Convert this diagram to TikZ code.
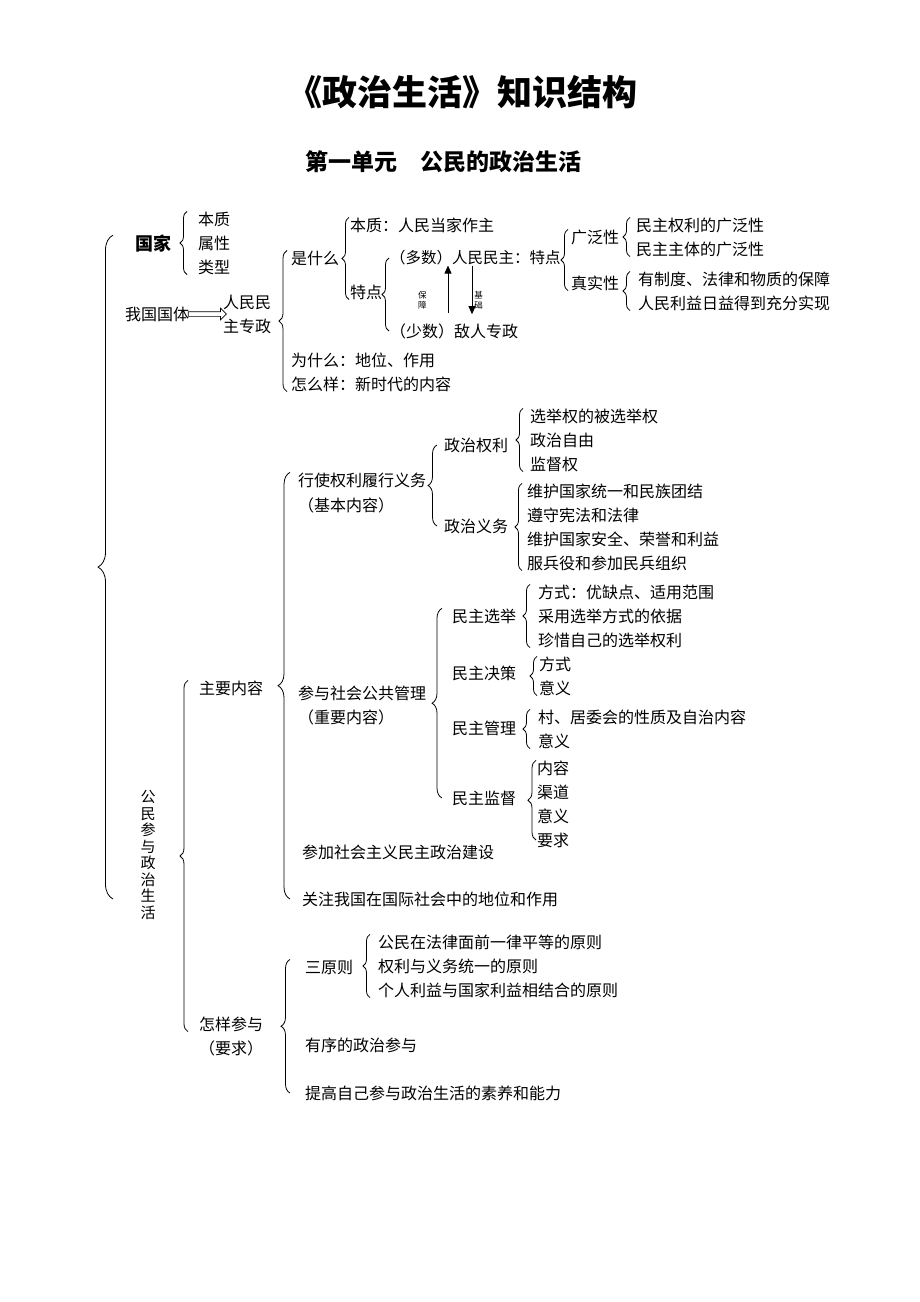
\documentclass[tikz,border=0pt]{standalone}
\usepackage{fontspec}
\setmainfont{Noto Sans CJK SC}
\usepackage{tikz}
\usetikzlibrary{decorations.pathreplacing, shapes.arrows, arrows.meta, calc}
\tikzset{
    item-text/.style = {anchor=west, inner sep=0pt, font=\fontsize{16}{19}\selectfont},
    head-text/.style = {font=\bfseries\fontsize{35}{40}\selectfont},
    unit-text/.style = {font=\bfseries\fontsize{23}{26}\selectfont},
    tiny-text/.style = {inner sep=0pt, align=center, font=\fontsize{8.5}{10}\selectfont},
    curly-brace/.style = {decorate, decoration={brace, amplitude=#1}, line width=0.8pt},
    curly-brace/.default = 7pt,
    hollow-arrow/.style = {single arrow, draw, line width=0.7pt, inner xsep=0pt, inner ysep=2pt, minimum height=38pt, single arrow head extend=3.5pt},
    thin-arrow/.style = {-{Triangle[length=8pt, width=7pt]}, line width=0.9pt},
}

\begin{document}
\begin{tikzpicture}[x=1pt, y=-1pt]
\path[use as bounding box, fill=white] (0,0) rectangle (920,1302);

\node[head-text] (title) at (462,92) {《政治生活》知识结构};
\node[unit-text] (unit) at (443,162) {第一单元\quad 公民的政治生活};

\node[item-text, font=\bfseries\fontsize{18}{20}\selectfont] (guojia) at (135,244) {国家};
\node[item-text] (gj1) at (198,219) {本质};
\node[item-text] (gj2) at (198,243) {属性};
\node[item-text] (gj3) at (198,267) {类型};
\node[item-text] (guoti) at (125,314) {我国国体};
\node[item-text, anchor=center, align=center, font=\fontsize{16}{24}\selectfont] (rmzz) at (247,314) {人民民\\主专政};
\path (guoti.east) -- node[hollow-arrow] (tiarrow) {} (rmzz.west);

\node[item-text] (shishenme) at (291,258) {是什么};
\node[item-text] (weishenme) at (291,360) {为什么：地位、作用};
\node[item-text] (zenmeyang) at (291,384) {怎么样：新时代的内容};
\node[item-text] (benzhi) at (350,225) {本质：人民当家作主};
\node[item-text] (tedian) at (350,292) {特点};
\node[item-text, font=\fontsize{15.5}{19}\selectfont] (duoshu) at (390,258) {（多数）人民民主：特点};
\node[item-text] (shaoshu) at (390,331) {（少数）敌人专政};
\node[item-text] (guangfan) at (571,237) {广泛性};
\node[item-text] (zhenshi) at (571,283) {真实性};
\node[item-text] (gf1) at (636,225) {民主权利的广泛性};
\node[item-text] (gf2) at (636,249) {民主主体的广泛性};
\node[item-text] (zs1) at (638,279) {有制度、法律和物质的保障};
\node[item-text] (zs2) at (638,303) {人民利益日益得到充分实现};

\draw[thin-arrow, shorten <=10pt] ([xshift=58pt]shaoshu.north west) -- node[tiny-text, pos=0.4, left=21pt] (baozhang) {保\\障} ([xshift=58pt]duoshu.south west);
\draw[thin-arrow, shorten >=9pt] ([xshift=82pt]duoshu.south west) -- node[tiny-text, pos=0.6, right=2pt] (jichu) {基\\础} ([xshift=82pt]shaoshu.north west);

\node[item-text, anchor=center, align=center, font=\fontsize{15}{16.5}\selectfont] (gmcy) at (148,855) {公\\民\\参\\与\\政\\治\\生\\活};
\node[item-text] (zyy) at (199,688) {主要内容};
\node[item-text] (zycy) at (199,1024) {怎样参与};
\node[item-text] (yaoqiu) at (199,1048) {（要求）};

\node[item-text] (xingshi) at (298,480) {行使权利履行义务};
\node[item-text] (jiben) at (298,505) {（基本内容）};
\node[item-text] (canyu) at (298,693) {参与社会公共管理};
\node[item-text] (zhongyao) at (298,717) {（重要内容）};
\node[item-text] (canjia) at (302,852) {参加社会主义民主政治建设};
\node[item-text] (guanzhu) at (302,899) {关注我国在国际社会中的地位和作用};

\node[item-text] (zzql) at (444,445) {政治权利};
\node[item-text] (zzyw) at (444,526) {政治义务};
\node[item-text] (ql1) at (530,416) {选举权的被选举权};
\node[item-text] (ql2) at (530,440) {政治自由};
\node[item-text] (ql3) at (530,464) {监督权};
\node[item-text] (yw1) at (527,491) {维护国家统一和民族团结};
\node[item-text] (yw2) at (527,515) {遵守宪法和法律};
\node[item-text] (yw3) at (527,539) {维护国家安全、荣誉和利益};
\node[item-text] (yw4) at (527,563) {服兵役和参加民兵组织};

\node[item-text] (mzxj) at (452,616) {民主选举};
\node[item-text] (mzjc) at (452,673) {民主决策};
\node[item-text] (mzgl) at (452,728) {民主管理};
\node[item-text] (mzjd) at (452,798) {民主监督};
\node[item-text] (xj1) at (538,592) {方式：优缺点、适用范围};
\node[item-text] (xj2) at (538,616) {采用选举方式的依据};
\node[item-text] (xj3) at (538,640) {珍惜自己的选举权利};
\node[item-text] (jc1) at (539,664) {方式};
\node[item-text] (jc2) at (539,688) {意义};
\node[item-text] (gl1) at (538,717) {村、居委会的性质及自治内容};
\node[item-text] (gl2) at (538,741) {意义};
\node[item-text] (jd1) at (537,768) {内容};
\node[item-text] (jd2) at (537,792) {渠道};
\node[item-text] (jd3) at (537,816) {意义};
\node[item-text] (jd4) at (537,840) {要求};

\node[item-text] (sanyuanze) at (305,967) {三原则};
\node[item-text] (youxu) at (305,1045) {有序的政治参与};
\node[item-text] (tigao) at (305,1093) {提高自己参与政治生活的素养和能力};
\node[item-text] (yz1) at (378,942) {公民在法律面前一律平等的原则};
\node[item-text] (yz2) at (378,966) {权利与义务统一的原则};
\node[item-text] (yz3) at (378,990) {个人利益与国家利益相结合的原则};

\draw[curly-brace=15pt] ($(guojia.west |- guanzhu.west)+(-22,0)$) -- ($(guojia.north west)+(-22,0)$);
\draw[curly-brace] ([xshift=-11pt]gj3.south west) -- ([xshift=-11pt]gj1.north west);
\draw[curly-brace=8pt] ([xshift=-4pt]zenmeyang.south west) -- ([xshift=-4pt]shishenme.north west);
\draw[curly-brace] ([xshift=-1pt]tedian.south west) -- ([xshift=-1pt]benzhi.north west);
\draw[curly-brace] ([xshift=-1pt]shaoshu.west) -- ([xshift=-1pt]duoshu.west);
\draw[curly-brace] ([xshift=-3pt]zhenshi.south west) -- ([xshift=-3pt]guangfan.north west);
\draw[curly-brace] ([xshift=-6pt]gf2.south west) -- ([xshift=-6pt]gf1.north west);
\draw[curly-brace] ([xshift=-8pt]zs2.south west) -- ([xshift=-8pt]zs1.north west);

\draw[curly-brace=8pt] ([xshift=-11pt]zycy.south west) -- ([xshift=-11pt]zyy.north west);
\draw[curly-brace=12pt] ($(xingshi.west |- guanzhu.west)+(-8,0)$) -- ($(xingshi.north west)+(-8,0)$);
\draw[curly-brace=9pt] ([xshift=-7pt]zzyw.west) -- ([xshift=-7pt]zzql.west);
\draw[curly-brace] ([xshift=-7pt]ql3.south west) -- ([xshift=-7pt]ql1.north west);
\draw[curly-brace] ([xshift=-5pt]yw4.south west) -- ([xshift=-5pt]yw1.north west);
\draw[curly-brace=10pt] ([xshift=-10pt]mzjd.west) -- ([xshift=-10pt]mzxj.north west);
\draw[curly-brace] ([xshift=-8pt]xj3.south west) -- ([xshift=-8pt]xj1.north west);
\draw[curly-brace] ([xshift=-2pt]jc2.south west) -- ([xshift=-2pt]jc1.north west);
\draw[curly-brace] ([xshift=-8pt]gl2.south west) -- ([xshift=-8pt]gl1.north west);
\draw[curly-brace=8pt] ([xshift=-1pt]jd4.west) -- ([xshift=-1pt]jd1.north west);

\draw[curly-brace=9pt] ([xshift=-15pt]tigao.west) -- ([xshift=-15pt]sanyuanze.north west);
\draw[curly-brace] ([xshift=-8pt]yz3.south west) -- ([xshift=-8pt]yz1.north west);
\end{tikzpicture}
\end{document}
